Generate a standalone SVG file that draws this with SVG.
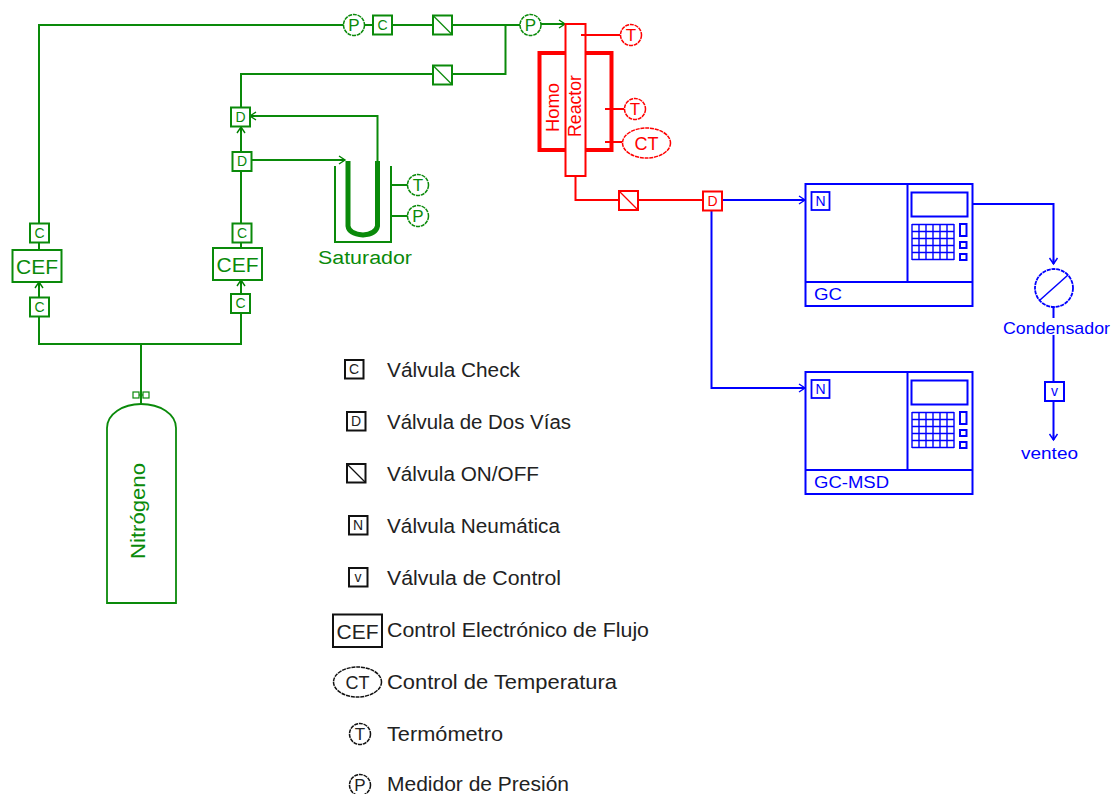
<svg xmlns="http://www.w3.org/2000/svg" width="1113" height="794" viewBox="0 0 1113 794">
<defs>
<marker id="ag" markerUnits="userSpaceOnUse" markerWidth="12" markerHeight="12" refX="9" refY="6" orient="auto" overflow="visible"><path d="M3 2L9 6L3 10M4 6H9" fill="none" stroke="#008000" stroke-width="1.4"/><circle cx="6.5" cy="6" r="2.2" fill="#008000"/></marker>
<marker id="ab" markerUnits="userSpaceOnUse" markerWidth="12" markerHeight="12" refX="9" refY="6" orient="auto" overflow="visible"><path d="M3 2L9 6L3 10M4 6H9" fill="none" stroke="#0000ff" stroke-width="1.4"/><circle cx="6.5" cy="6" r="2.2" fill="#0000ff"/></marker>
</defs>
<style>
text{font-family:"Liberation Sans",Arial,sans-serif}
rect,circle,ellipse,path{fill:none}
.g{stroke:#0a8a0a;stroke-width:2}
.r{stroke:#ff0000;stroke-width:2}
.b{stroke:#0000ff;stroke-width:2}
.k{stroke:#111;stroke-width:2}
.f{fill:#fff}
.thin{stroke-width:1.2}
.dash{stroke-dasharray:4 .8;stroke-width:1.5}
.tg{fill:#0a8a0a}.tr{fill:#ff0000}.tb{fill:#0000ff}.tk{fill:#222}
.s{font-size:14px;text-anchor:middle}
.p{font-size:17px;text-anchor:middle}
.m{font-size:18px;text-anchor:middle}
.l{font-size:20px}
.cef{font-size:21px;text-anchor:middle}
.lab{font-size:18px}
</style>
<rect width="1113" height="794" style="fill:#fff"/>
<g id="connectors">
<path class="g" d="M39 223V25H344M364 25H373M392 25H433M452 25H520"/>
<path class="g" d="M505.500 25V74H452M433 74H241V107"/>
<path class="g" d="M541 24H565" marker-end="url(#ag)"/>
<path class="g" d="M39 243V250"/>
<path class="g" d="M39 297V282" marker-end="url(#ag)"/>
<path class="g" d="M39 316V344H241V313"/>
<path class="g" d="M241 294V280" marker-end="url(#ag)"/>
<path class="g" d="M241 248V243M241 223V171"/>
<path class="g" d="M241 152V127" marker-end="url(#ag)"/>
<path class="g" d="M251 160H345" marker-end="url(#ag)"/>
<path class="g" d="M377.500 161V116H250" marker-end="url(#ag)"/>
<path class="g" d="M141 344V404"/>
<path class="r" d="M575.500 176V200H619M638 200H703"/>
<path class="b" d="M722 200H805" marker-end="url(#ab)"/>
<path class="b" d="M711.500 210V388H805" marker-end="url(#ab)"/>
<path class="b" d="M972 204H1053.500V264" marker-end="url(#ab)"/>
<path class="b" d="M1053.500 306V318M1053.500 335V382"/>
<path class="b" d="M1053.500 401V440" marker-end="url(#ab)"/>
<path class="g" d="M391 185H408M391 216H408"/>
<path class="r" d="M605 109H624M605 142H622"/>
</g>
<g id="meter-p1"><circle class="g dash f" cx="354" cy="25" r="10.500"/><text class="p tg" x="354" y="31">P</text></g>
<g id="check-top"><rect class="g f" x="373" y="15.500" width="19" height="19"/><text class="s tg" x="382.500" y="30">C</text></g>
<g id="onoff-top"><rect class="g f" x="433" y="15.500" width="19" height="19"/><path class="g thin" d="M433 15.500L452 34.500"/></g>
<g id="onoff-mid"><rect class="g f" x="433" y="65.500" width="19" height="19"/><path class="g thin" d="M433 65.500L452 84.500"/></g>
<g id="meter-p2"><circle class="g dash f" cx="530.500" cy="25" r="10.500"/><text class="p tg" x="530.500" y="31">P</text></g>
<g id="reactor">
<rect class="r" x="539.500" y="53" width="72" height="97" style="stroke-width:4"/>
<rect class="r f" x="565.500" y="24" width="20" height="152"/>
<path class="r" d="M581 35H620"/>
<text class="tr" transform="translate(559 132) rotate(-90)" textLength="49" lengthAdjust="spacingAndGlyphs" style="font-size:18px">Homo</text>
<text class="tr" transform="translate(581 137) rotate(-90)" textLength="62" lengthAdjust="spacingAndGlyphs" style="font-size:18px">Reactor</text>
</g>
<g id="meter-t1"><circle class="r dash f" cx="631" cy="35" r="10.500"/><text class="p tr" x="631" y="41">T</text></g>
<g id="meter-t2"><circle class="r dash f" cx="635" cy="109" r="10.500"/><text class="p tr" x="635" y="115">T</text></g>
<g id="temp-control"><ellipse class="r dash f" cx="646.500" cy="143" rx="24" ry="15"/><text class="m tr" x="646.500" y="150">CT</text></g>
<g id="onoff-red"><rect class="r f" x="619" y="191" width="19" height="19"/><path class="r thin" d="M619 191L638 210"/></g>
<g id="valve-d-red"><rect class="r f" x="703" y="191.500" width="19" height="19"/><text class="s tr" x="712.500" y="206">D</text></g>
<g id="check-l-up"><rect class="g f" x="30" y="223.500" width="19" height="19"/><text class="s tg" x="39.500" y="238">C</text></g>
<g id="cef-left"><rect class="g f" x="12.500" y="250" width="49" height="32"/><text class="cef tg" x="37" y="274">CEF</text></g>
<g id="check-l-down"><rect class="g f" x="30" y="297.500" width="19" height="19"/><text class="s tg" x="39.500" y="312">C</text></g>
<g id="valve-d-upper"><rect class="g f" x="231" y="107.500" width="19" height="19"/><text class="s tg" x="240.500" y="122">D</text></g>
<g id="valve-d-lower"><rect class="g f" x="232.500" y="152" width="19" height="19"/><text class="s tg" x="242" y="166">D</text></g>
<g id="check-r-up"><rect class="g f" x="232.500" y="223.500" width="19" height="19"/><text class="s tg" x="242" y="238">C</text></g>
<g id="cef-right"><rect class="g f" x="213" y="248" width="49" height="32"/><text class="cef tg" x="237.500" y="272">CEF</text></g>
<g id="check-r-down"><rect class="g f" x="231" y="294" width="19" height="19"/><text class="s tg" x="240.500" y="308">C</text></g>
<g id="saturador">
<path class="g" d="M335 166V242H391V166"/>
<path class="g" d="M348 161V226Q349 234 363 235Q376 234 377.500 226V161" style="stroke-width:5"/>
<text class="tg lab" x="318" y="264" textLength="94" lengthAdjust="spacingAndGlyphs">Saturador</text>
</g>
<g id="meter-t3"><circle class="g dash f" cx="418" cy="185" r="10.500"/><text class="p tg" x="418" y="191">T</text></g>
<g id="meter-p3"><circle class="g dash f" cx="418" cy="216" r="10.500"/><text class="p tg" x="418" y="222">P</text></g>
<g id="nitrogeno">
<path class="g" d="M107 603V428C107 414 123 404 141 404C160 404 176 414 176 428V603Z" style="stroke-width:1.800"/>
<rect class="g thin" x="133" y="392" width="6" height="6"/><rect class="g thin" x="143" y="392" width="6" height="6"/>
<circle cx="141" cy="395" r="1.800" style="fill:#0a8a0a"/>
<text class="tg lab" transform="translate(145 559) rotate(-90)" textLength="96" lengthAdjust="spacingAndGlyphs" style="font-size:20px">Nitrógeno</text>
</g>
<g id="gc">
<rect class="b f" x="805.500" y="184" width="167" height="122"/>
<path class="b" d="M907.500 184V282M805.500 282H972"/>
<rect class="b" x="811.500" y="192" width="18" height="18" style="stroke-width:1.800"/><text class="s tb" x="820.500" y="206">N</text>
<rect class="b" x="911.500" y="192.500" width="56" height="24"/>
<path class="b" d="M912 224.500H954M912 231.500H954M912 238.500H954M912 245.500H954M912 252.500H954M912 259.500H954M912 224V260M919 224V260M926 224V260M933 224V260M940 224V260M947 224V260M954 224V260" style="stroke-width:1.400"/>
<rect class="b" x="960" y="224" width="6.500" height="12"/><rect class="b" x="960" y="242" width="6.500" height="6"/><rect class="b" x="960" y="254" width="6.500" height="6"/>
<text class="tb" x="814" y="300" textLength="28" lengthAdjust="spacingAndGlyphs" style="font-size:17px">GC</text>
</g>
<g id="gc-msd">
<rect class="b f" x="805.500" y="372" width="167" height="122"/>
<path class="b" d="M907.500 372V470M805.500 470H972"/>
<rect class="b" x="811.500" y="380" width="18" height="18" style="stroke-width:1.800"/><text class="s tb" x="820.500" y="394">N</text>
<rect class="b" x="911.500" y="380.500" width="56" height="24"/>
<path class="b" d="M912 412.500H954M912 419.500H954M912 426.500H954M912 433.500H954M912 440.500H954M912 447.500H954M912 412V448M919 412V448M926 412V448M933 412V448M940 412V448M947 412V448M954 412V448" style="stroke-width:1.400"/>
<rect class="b" x="960" y="412" width="6.500" height="12"/><rect class="b" x="960" y="430" width="6.500" height="6"/><rect class="b" x="960" y="442" width="6.500" height="6"/>
<text class="tb" x="814" y="488" textLength="75" lengthAdjust="spacingAndGlyphs" style="font-size:17px">GC-MSD</text>
</g>
<g id="condensador">
<circle class="b dash f" cx="1054" cy="288" r="19" style="stroke-width:1.800"/>
<path class="b" d="M1040 300L1068 275" style="stroke-width:1.500"/>
<text class="tb" x="1003" y="334" textLength="107" lengthAdjust="spacingAndGlyphs" style="font-size:17px">Condensador</text>
</g>
<g id="valve-v"><rect class="b f" x="1045" y="382" width="19" height="19"/><text class="s tb" x="1054.500" y="396">v</text></g>
<g id="venteo"><text class="tb" x="1021" y="459" textLength="57" lengthAdjust="spacingAndGlyphs" style="font-size:17px">venteo</text></g>
<g id="legend">
<rect class="k" x="345" y="360" width="18.500" height="18.500"/><text class="s tk" x="354" y="374">C</text><text class="l tk" x="387" y="377" textLength="133" lengthAdjust="spacingAndGlyphs">Válvula Check</text>
<rect class="k" x="347" y="412" width="18.500" height="18.500"/><text class="s tk" x="356" y="426">D</text><text class="l tk" x="387" y="429" textLength="184" lengthAdjust="spacingAndGlyphs">Válvula de Dos Vías</text>
<rect class="k" x="347" y="464" width="18.500" height="18.500"/><path class="k thin" d="M347 464L365.500 482.500"/><text class="l tk" x="387" y="481" textLength="152" lengthAdjust="spacingAndGlyphs">Válvula ON/OFF</text>
<rect class="k" x="349" y="516" width="18.500" height="18.500"/><text class="s tk" x="358" y="530">N</text><text class="l tk" x="387" y="533" textLength="173" lengthAdjust="spacingAndGlyphs">Válvula Neumática</text>
<rect class="k" x="349" y="568" width="18.500" height="18.500"/><text class="s tk" x="358" y="582">v</text><text class="l tk" x="387" y="585" textLength="174" lengthAdjust="spacingAndGlyphs">Válvula de Control</text>
<rect class="k" x="333" y="614.500" width="49" height="32.500"/><text class="cef tk" x="357.500" y="639">CEF</text><text class="l tk" x="387" y="637" textLength="262" lengthAdjust="spacingAndGlyphs">Control Electrónico de Flujo</text>
<ellipse class="k dash" cx="357.500" cy="682" rx="24" ry="15"/><text class="m tk" x="357.500" y="689">CT</text><text class="l tk" x="387" y="689" textLength="230" lengthAdjust="spacingAndGlyphs">Control de Temperatura</text>
<circle class="k dash" cx="360" cy="734" r="10.500"/><text class="p tk" x="360" y="740">T</text><text class="l tk" x="387" y="741" textLength="116" lengthAdjust="spacingAndGlyphs">Termómetro</text>
<circle class="k dash" cx="360" cy="785" r="10.500"/><text class="p tk" x="360" y="791">P</text><text class="l tk" x="387" y="791" textLength="182" lengthAdjust="spacingAndGlyphs">Medidor de Presión</text>
</g>
</svg>
